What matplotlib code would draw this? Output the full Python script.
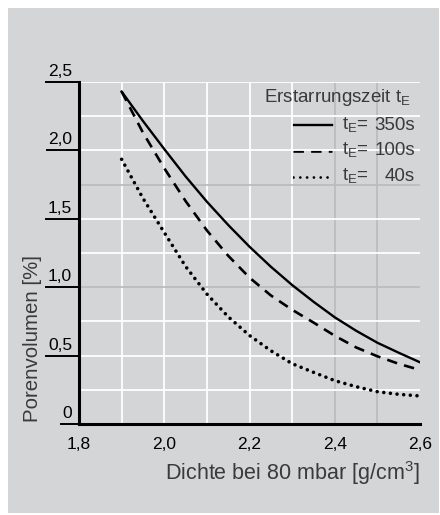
import matplotlib
matplotlib.use("Agg")
import matplotlib.pyplot as plt
from matplotlib.lines import Line2D
from matplotlib.patches import Rectangle

plt.rcParams["lines.scale_dashes"] = False
plt.rcParams["font.family"] = ["Liberation Sans", "DejaVu Sans"]

# Density (g/cm3) and pore volume (%) for three solidification times
density = [1.90, 1.95, 2.00, 2.05, 2.10, 2.15, 2.20, 2.25, 2.30, 2.35, 2.40, 2.45, 2.50, 2.55, 2.60]
pores_350s = [2.43, 2.215, 2.01, 1.81, 1.625, 1.455, 1.296, 1.15, 1.016, 0.894, 0.78, 0.682, 0.594, 0.521, 0.451]
pores_100s = [2.43, 2.13, 1.87, 1.63, 1.415, 1.23, 1.07, 0.94, 0.835, 0.742, 0.645, 0.56, 0.495, 0.44, 0.395]
pores_40s = [1.935, 1.65, 1.40, 1.152, 0.95, 0.784, 0.647, 0.536, 0.441, 0.378, 0.317, 0.273, 0.236, 0.217, 0.205]

x_ticks = [1.8, 2.0, 2.2, 2.4, 2.6]
x_ticklabels = ["1,8", "2,0", "2,2", "2,4", "2,6"]
y_ticks = [0, 0.5, 1.0, 1.5, 2.0, 2.5]
y_ticklabels = ["0", "0,5", "1,0", "1,5", "2,0", "2,5"]
x_grid = [1.9, 2.0, 2.1, 2.2, 2.3, 2.4, 2.5]
y_grid = [0.25, 0.5, 0.75, 1.0, 1.25, 1.5, 1.75, 2.0, 2.25, 2.5]
x_grid_dark = [2.4, 2.5]
y_grid_dark = [1.0, 1.75]

legend_title = r"Erstarrungszeit t$_{\mathregular{E}}$"
legend_values = ["350s", "100s", "40s"]

W, H = 440, 515
PANEL = "#d4d5d7"
TEXT = "#3a3a3a"
TICK_SIZE = 12.5


def fx(x):
    return x / W


def fy(y):
    return 1 - y / H


fig = plt.figure(figsize=(W / 100, H / 100), dpi=100, facecolor="white")
fig.patches.append(Rectangle((fx(8), fy(513)), (439 - 8) / W, (513 - 8) / H,
                             transform=fig.transFigure, facecolor=PANEL,
                             edgecolor="none", zorder=-10))

ax_l, ax_r, ax_t, ax_b = 79, 420, 82, 424
ax = fig.add_axes([fx(ax_l), fy(ax_b), (ax_r - ax_l) / W, (ax_b - ax_t) / H])
ax.set_zorder(2)
ax.set_facecolor("none")
ax.set_xlim(1.8, 2.6)
ax.set_ylim(0, 2.5)

for g in x_grid:
    ax.axvline(g, color="#bcbcbe" if g in x_grid_dark else "white", lw=1.3, zorder=1)
for g in y_grid:
    ax.axhline(g, color="#bcbcbe" if g in y_grid_dark else "white", lw=1.3, zorder=1)

for s in ["top", "right"]:
    ax.spines[s].set_visible(False)
for s in ["left", "bottom"]:
    ax.spines[s].set_linewidth(2.2)
    ax.spines[s].set_color("black")
    ax.spines[s].set_zorder(5)
ax.set_xticks([])
ax.set_yticks([])

solid_style = dict(color="black", lw=1.7, linestyle="-")
dash_style = dict(color="black", lw=1.9, linestyle=(0, (7.5, 5.2)), dash_capstyle="butt")
dot_style = dict(color="black", lw=2.6, linestyle=(0, (0.001, 4.8)), dash_capstyle="round")

ax.plot(density, pores_350s, zorder=4, **solid_style)
ax.plot(density, pores_100s, zorder=4, **dash_style)
ax.plot(density, pores_40s, zorder=4, **dot_style)

# x tick labels below the axis
for v, lab in zip(x_ticks, x_ticklabels):
    ax.text(v, -13 / (ax_b - ax_t), lab, transform=ax.get_xaxis_transform(),
            ha="center", va="top", fontsize=TICK_SIZE, color="black", clip_on=False)

# y tick labels sitting on an underline that runs into the axis
ylabels = []
for v, lab in zip(y_ticks, y_ticklabels):
    py = ax_b - v / 2.5 * (ax_b - ax_t)
    t = fig.text(fx(72), fy(py - 3), lab, ha="right", va="bottom",
                 fontsize=TICK_SIZE, color="black")
    ylabels.append((t, py))

fig.canvas.draw()
renderer = fig.canvas.get_renderer()
for t, py in ylabels:
    bb = t.get_window_extent(renderer)
    x0 = bb.x0 - 1.5
    fig.add_artist(Line2D([x0 / W, fx(ax_l)], [fy(py), fy(py)], color="black",
                          lw=1.4, transform=fig.transFigure))

fig.text(fx(33), fy(422), "Porenvolumen [%]", rotation=90, ha="center", va="bottom",
         fontsize=14.7, color=TEXT)
fig.text(fx(420), fy(473), r"Dichte bei 80 mbar [g/cm$^{\mathregular{3}}$]", ha="right",
         va="center", fontsize=15.5, color=TEXT)

# legend drawn by hand
fig.text(fx(411), fy(97), legend_title, ha="right", va="center", fontsize=13.5, color=TEXT)
rows = [125.5, 150.5, 176.5]
styles = [solid_style, dash_style, dict(dot_style, lw=2.0, linestyle=(0, (0.001, 4.9)))]
for ry, st, val in zip(rows, styles, legend_values):
    fig.add_artist(Line2D([fx(293), fx(332)], [fy(ry), fy(ry)], transform=fig.transFigure, **st))
    fig.text(fx(342), fy(ry), r"t$_{\mathregular{E}}$=", ha="left", va="center",
             fontsize=13.5, color=TEXT)
    fig.text(fx(415), fy(ry), val, ha="right", va="center", fontsize=13.5, color=TEXT)

fig.savefig("out.png", dpi=100, facecolor="white")
